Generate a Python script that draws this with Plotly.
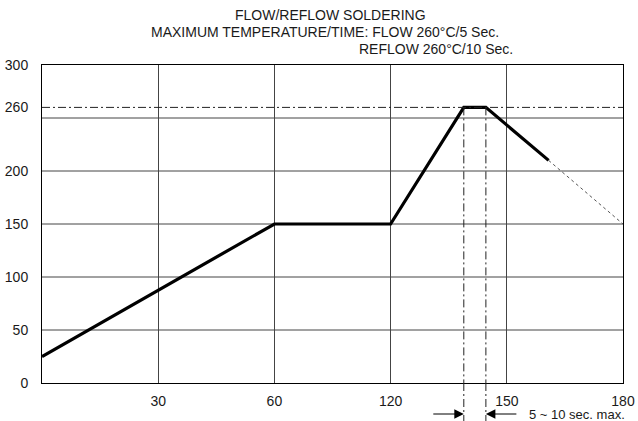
import plotly.graph_objects as go

# ---- data (x in evenly-spaced axis positions; labels below) ----
x_tick_pos = [1, 2, 3, 4, 5]
x_tick_labels = ["30", "60", "120", "150", "180"]
y_tick_vals = [0, 50, 100, 150, 200, 260, 300]
grid_y = [50, 100, 150, 200, 250]

profile_x = [0, 2, 3, 3.63, 3.82, 4.36]
profile_y = [25, 150, 150, 260, 260, 210]
cooling_x = [4.36, 5]
cooling_y = [210, 150]

peak_temp = 260
peak_window = [3.63, 3.82]

title_lines = ["FLOW/REFLOW SOLDERING",
               "MAXIMUM TEMPERATURE/TIME: FLOW 260°C/5 Sec.",
               "REFLOW 260°C/10 Sec."]
window_label = "5 ~ 10 sec. max."

FONT = "Liberation Sans, Arial, sans-serif"
TXT = "#1a1a1a"
DASHDOT = "8px,3px,2px,3px"

fig = go.Figure()
fig.add_trace(go.Scatter(x=profile_x, y=profile_y, mode="lines",
                         line=dict(color="black", width=3.2), showlegend=False,
                         hoverinfo="skip"))
fig.add_trace(go.Scatter(x=cooling_x, y=cooling_y, mode="lines",
                         line=dict(color="#555", width=1, dash="dot"), showlegend=False,
                         hoverinfo="skip"))

shapes = []
for gy in grid_y:
    shapes.append(dict(type="line", xref="paper", yref="y", x0=0, x1=1, y0=gy, y1=gy,
                       line=dict(color="#444", width=1), layer="below"))
shapes.append(dict(type="line", xref="paper", yref="y", x0=0, x1=1, y0=peak_temp, y1=peak_temp,
                   line=dict(color="#222", width=1, dash=DASHDOT)))
for px in peak_window:
    shapes.append(dict(type="line", xref="x", yref="y", x0=px, x1=px, y0=peak_temp, y1=0,
                       line=dict(color="#222", width=1, dash=DASHDOT)))
    shapes.append(dict(type="line", xref="x", yref="paper", x0=px, x1=px, y0=0, y1=-0.125,
                       line=dict(color="#222", width=1, dash=DASHDOT)))

annotations = [
    dict(text=title_lines[0], xref="paper", yref="paper", x=0.497, y=1.1557,
         xanchor="center", yanchor="middle", showarrow=False),
    dict(text=title_lines[1], xref="paper", yref="paper", x=0.487, y=1.1038,
         xanchor="center", yanchor="middle", showarrow=False),
    dict(text=title_lines[2], xref="paper", yref="paper", x=0.542, y=1.0503,
         xanchor="left", yanchor="middle", showarrow=False),
    dict(text="", xref="x", yref="paper", x=peak_window[0], y=-0.0975,
         showarrow=True, ax=-32, ay=0, axref="pixel", ayref="pixel",
         arrowhead=2, arrowsize=1.9, arrowwidth=1, arrowcolor="black", standoff=0),
    dict(text="", xref="x", yref="paper", x=peak_window[1], y=-0.0975,
         showarrow=True, ax=32, ay=0, axref="pixel", ayref="pixel",
         arrowhead=2, arrowsize=1.9, arrowwidth=1, arrowcolor="black", standoff=0),
    dict(text=window_label, xref="paper", yref="paper", x=(527 - 42) / 581, y=-0.0975,
         xanchor="left", yanchor="middle", showarrow=False, font=dict(size=13)),
]

fig.update_layout(
    width=638, height=421,
    margin=dict(l=42, r=15, t=65, b=38, autoexpand=False),
    paper_bgcolor="white", plot_bgcolor="white",
    font=dict(family=FONT, size=14, color=TXT),
    shapes=shapes, annotations=annotations,
    showlegend=False,
)
fig.update_xaxes(range=[0, 5], tickmode="array", tickvals=x_tick_pos, ticktext=x_tick_labels,
                 showgrid=True, gridcolor="#444", gridwidth=1, zeroline=False,
                 showline=True, linecolor="black", linewidth=1, mirror=True,
                 ticks="", ticklabelstandoff=5, automargin=False)
fig.update_yaxes(range=[0, 300], tickmode="array", tickvals=y_tick_vals,
                 showgrid=False, zeroline=False,
                 showline=True, linecolor="black", linewidth=1, mirror=True,
                 ticks="", ticklabelstandoff=10, automargin=False)

fig.write_html("out.html", config={"displayModeBar": False},
               post_script="document.body.style.margin='0';document.body.style.overflow='hidden';")
